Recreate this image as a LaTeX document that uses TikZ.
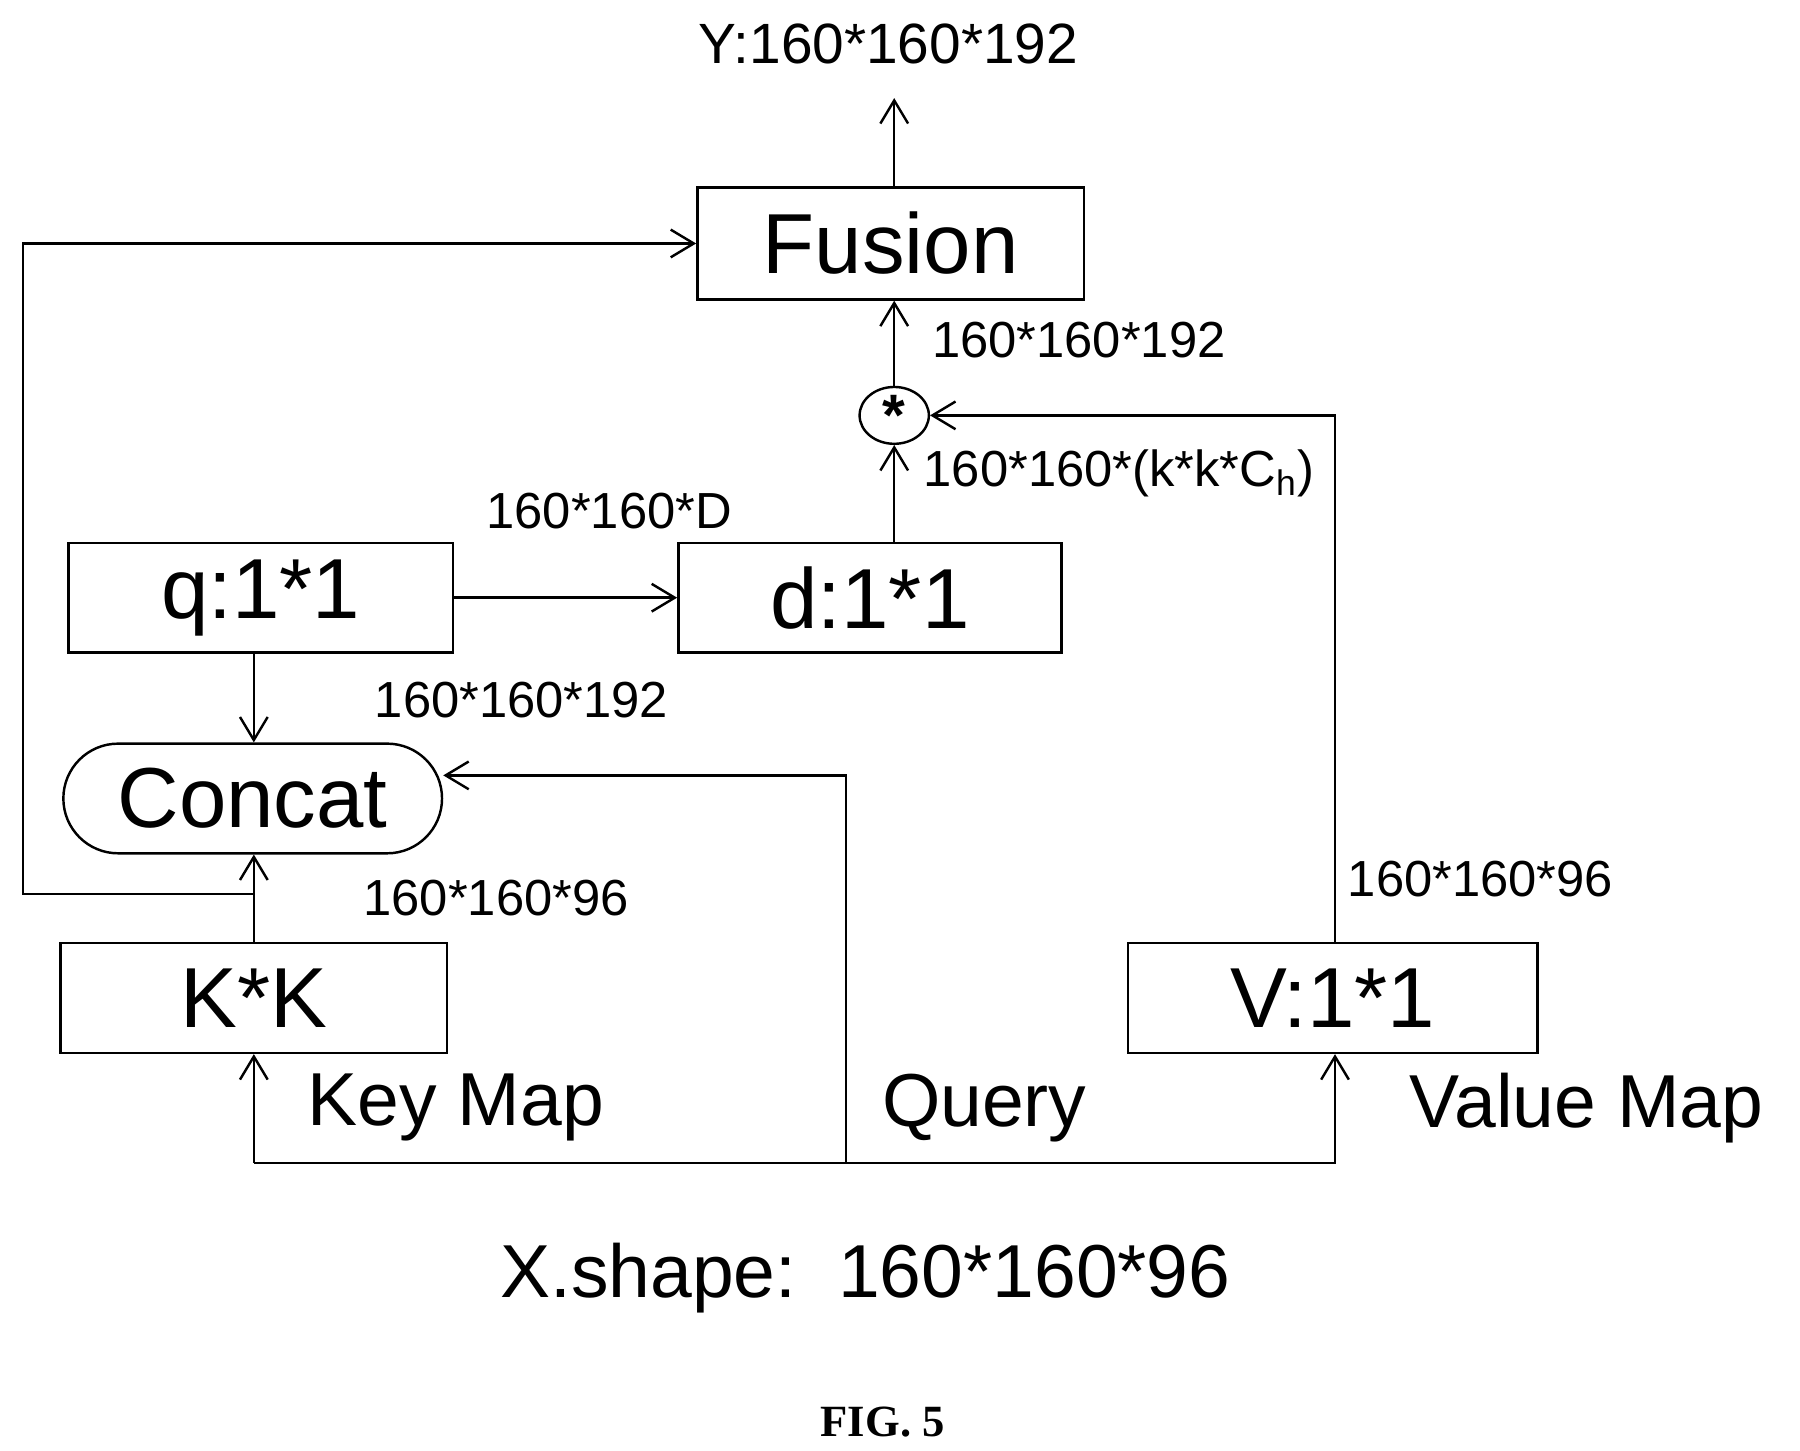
\documentclass[tikz,border=0pt]{standalone}
\usepackage{fontspec}
\setmainfont{Liberation Sans}
\newfontfamily\capfont{Liberation Serif}
\usetikzlibrary{arrows.meta,positioning,shapes.misc,shapes.geometric}

\begin{document}
\begin{tikzpicture}[
  x=0.01cm, y=-0.01cm, line width=0.6pt, >={Straight Barb[length=2mm,width=2.4mm]},
  block/.style={rectangle, draw=black, inner sep=0pt, font=\fontsize{21}{24}\selectfont},
  dim/.style={inner sep=0pt, font=\fontsize{12.5}{15}\selectfont},
  inlab/.style={inner sep=0pt, font=\fontsize{18.5}{22}\selectfont}
]
\useasboundingbox (0,0) rectangle (1560,1257);

% blocks
\node[block, minimum width=3.35cm, minimum height=0.97cm] (fusion) at (772,211) {Fusion};
\node[block, minimum width=3.32cm, minimum height=0.95cm] (d) at (754,518) {d:1*1};
\node[block, minimum width=3.33cm, minimum height=0.95cm] (q) at (226,518) {q:1*1};
\node[block, rounded rectangle, minimum width=3.28cm, minimum height=0.95cm] (concat) at (219,692) {Concat};
\node[block, minimum width=3.35cm, minimum height=0.95cm] (kk) at (220,865) {K*K};
\node[block, minimum width=3.55cm, minimum height=0.95cm] (v) at (1155,865) {V:1*1};
\node[ellipse, draw=black, inner sep=0pt, minimum width=0.6cm, minimum height=0.4cm, font=\bfseries\Large] (star) at (775,360) {*};

% labels
\node[dim, font=\fontsize{14}{16}\selectfont] (y) at (770,38) {Y:160*160*192};
\node[dim] (l1) at (935,295) {160*160*192};
\node[dim] (l2) at (970,410) {160*160*(k*k*C\textsubscript{h})};
\node[dim] (l3) at (528,443) {160*160*D};
\node[dim] (l4) at (452,607) {160*160*192};
\node[dim] (l5) at (430,778) {160*160*96};
\node[dim] (l6) at (1283,762) {160*160*96};
\node[inlab] (key) at (395,960) {Key Map};
\node[inlab] (query) at (853,960) {Query};
\node[inlab] (value) at (1375,960) {Value Map};
\node[inlab] (xs) at (750,1108) {X.shape:\ \ 160*160*96};
\node[inner sep=0pt, font=\capfont\bfseries\fontsize{11}{13}\selectfont] (fig) at (765,1232) {FIG. 5};

% connectors
\coordinate (top) at (775,85);
\coordinate (kbr) at (220,775);
\coordinate (bl) at (220,1008);
\coordinate (bq) at (733,1008);
\coordinate (br) at (1157,1008);
\draw[->] (fusion.north -| top) -- (top);
\draw[->] (star) -- (star |- fusion.south);
\draw[->] (d.north -| star) -- (star);
\draw[->] (v.north -| br) |- (star.east);
\draw[->] (q) -- (d);
\draw[->] (q.south -| kbr) -- (concat.north -| kbr);
\draw[->] (kbr) -- (concat.south -| kbr);
\draw (kk.north -| kbr) -- (kbr);
\draw[->] (kbr) -- (20,775) |- (fusion.west);
\draw[->] (bq) |- (concat.east |- 0,672);
\draw[->] (bl) -- (kk.south -| bl);
\draw[->] (bl) -- (br) -- (v.south -| br);
\end{tikzpicture}
\end{document}
